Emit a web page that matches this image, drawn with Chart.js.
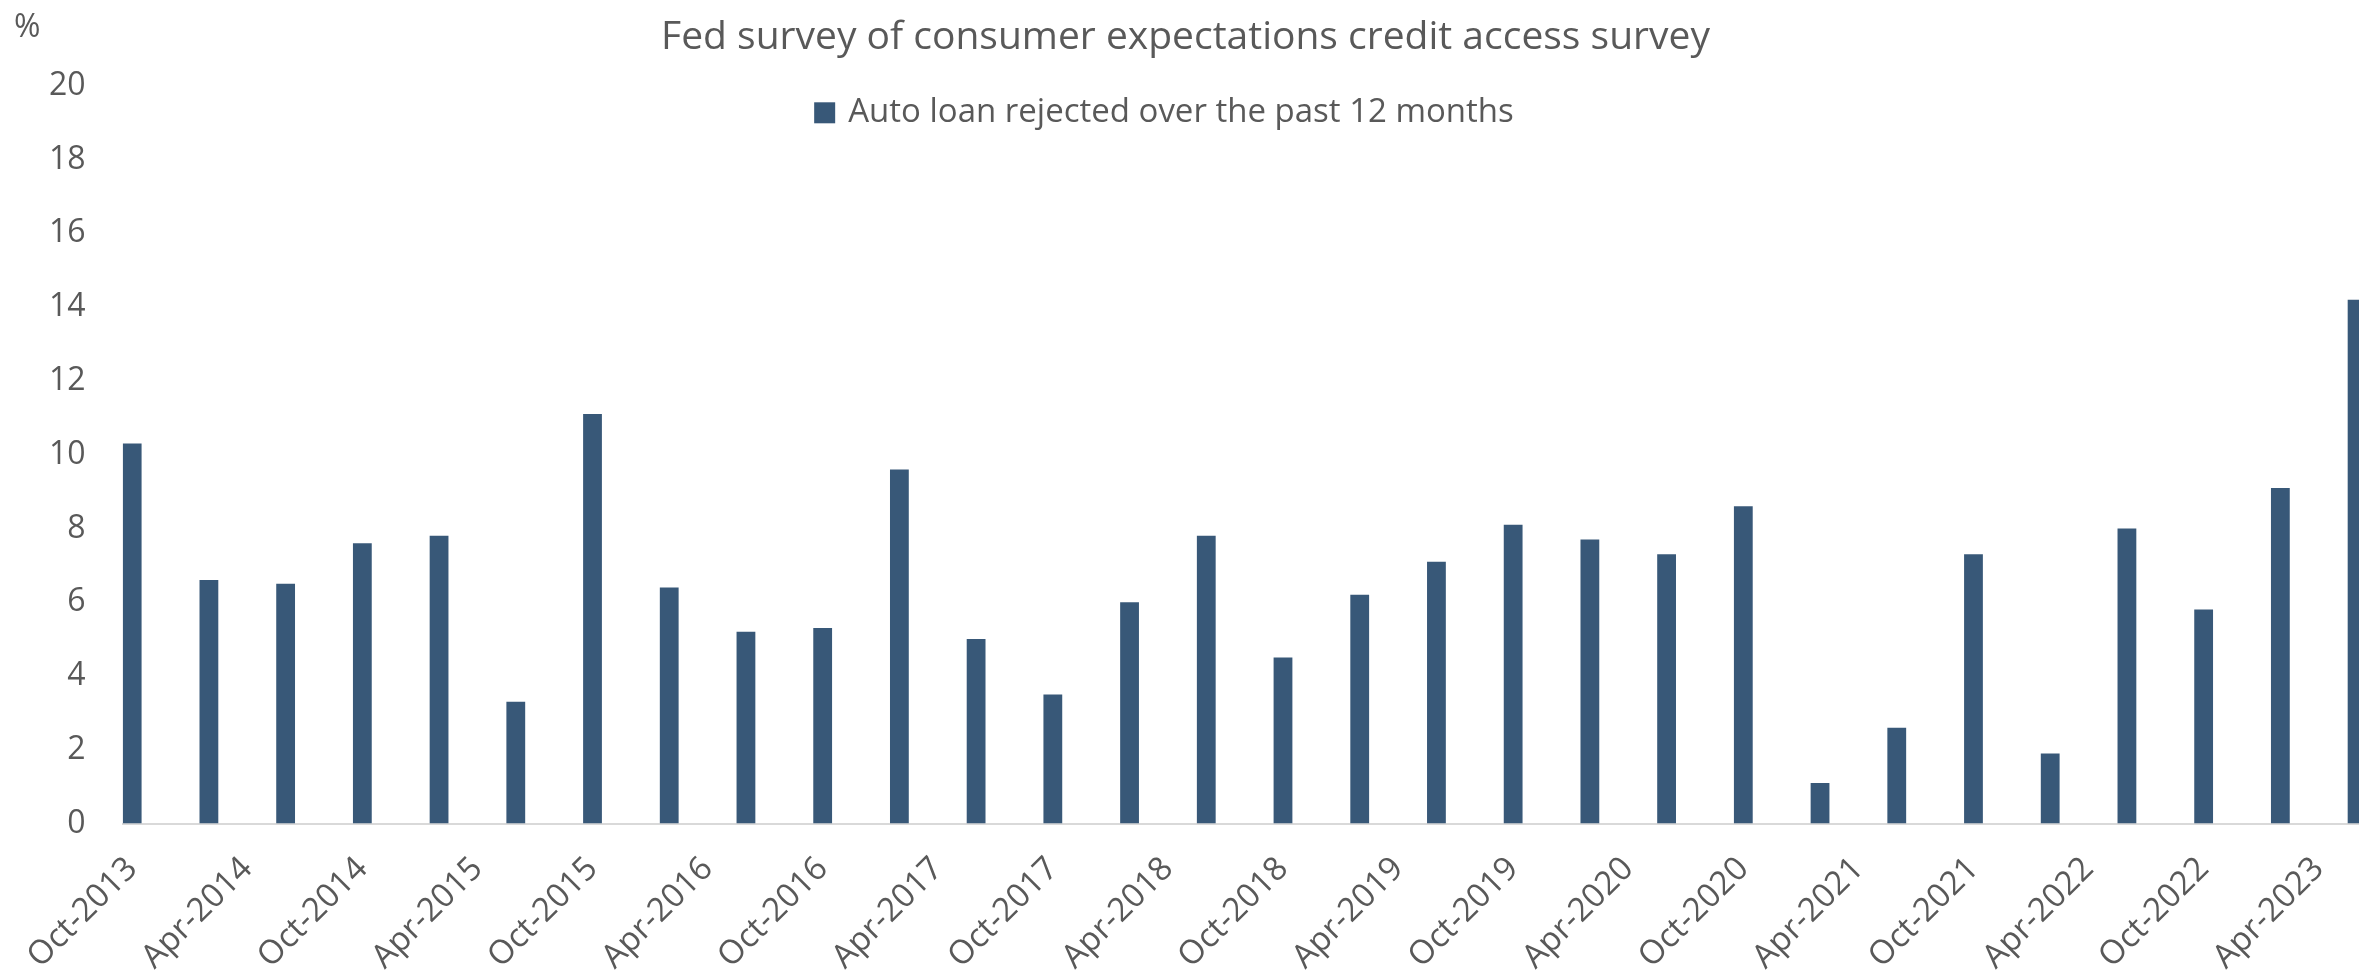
<!DOCTYPE html>
<html>
<head>
<meta charset="utf-8">
<title>Fed survey of consumer expectations credit access survey</title>
<script src="https://cdn.jsdelivr.net/npm/chart.js@4.4.0/dist/chart.umd.min.js"></script>
<style>
  html, body { margin: 0; padding: 0; background: #ffffff; overflow: hidden; }
  #wrap { position: relative; width: 2359px; height: 980px; }
</style>
</head>
<body>
<div id="wrap"><canvas id="creditChart"></canvas></div>
<script>
// survey waves (every 4 months)
const surveyDates = [
  'Oct-2013', 'Feb-2014', 'Jun-2014', 'Oct-2014', 'Feb-2015', 'Jun-2015',
  'Oct-2015', 'Feb-2016', 'Jun-2016', 'Oct-2016', 'Feb-2017', 'Jun-2017',
  'Oct-2017', 'Feb-2018', 'Jun-2018', 'Oct-2018', 'Feb-2019', 'Jun-2019',
  'Oct-2019', 'Feb-2020', 'Jun-2020', 'Oct-2020', 'Feb-2021', 'Jun-2021',
  'Oct-2021', 'Feb-2022', 'Jun-2022', 'Oct-2022', 'Feb-2023', 'Jun-2023'
];
const autoLoanRejected = [
  10.3, 6.6, 6.5, 7.6, 7.8, 3.3,
  11.1, 6.4, 5.2, 5.3, 9.6, 5.0,
  3.5, 6.0, 7.8, 4.5, 6.2, 7.1,
  8.1, 7.7, 7.3, 8.6, 1.1, 2.6,
  7.3, 1.9, 8.0, 5.8, 9.1, 14.2
];
// date axis labels every 6 months
const xTickLabels = [
  'Oct-2013', 'Apr-2014', 'Oct-2014', 'Apr-2015', 'Oct-2015', 'Apr-2016',
  'Oct-2016', 'Apr-2017', 'Oct-2017', 'Apr-2018', 'Oct-2018', 'Apr-2019',
  'Oct-2019', 'Apr-2020', 'Oct-2020', 'Apr-2021', 'Oct-2021', 'Apr-2022',
  'Oct-2022', 'Apr-2023'
];
const MONTHS = ['Jan', 'Feb', 'Mar', 'Apr', 'May', 'Jun', 'Jul', 'Aug', 'Sep', 'Oct', 'Nov', 'Dec'];

const textColor = '#595959';
const barColor = '#385878';
const fontFamily = "'Open Sans', 'Noto Sans', sans-serif";

// months since the first survey wave
function monthIndex(label) {
  const parts = label.split('-');
  return Number(parts[1]) * 12 + MONTHS.indexOf(parts[0]);
}
const firstMonth = monthIndex(surveyDates[0]);
const toX = label => monthIndex(label) - firstMonth;

// "%" unit at the top left
const unitLabel = {
  id: 'unitLabel',
  afterDraw(chart) {
    const c = chart.ctx;
    c.save();
    c.font = '32px ' + fontFamily;
    c.fillStyle = textColor;
    c.textAlign = 'left';
    c.textBaseline = 'middle';
    c.fillText('%', 14, 28);
    c.restore();
  }
};

// legend sits inside the plot, like the excel one
const legendOverlay = {
  id: 'legendOverlay',
  afterDraw(chart) {
    const ds = chart.data.datasets[0];
    const c = chart.ctx;
    const box = 21, gap = 13;
    c.save();
    c.font = '33px ' + fontFamily;
    const total = box + gap + c.measureText(ds.label).width;
    const left = 1164 - total / 2;
    const y = chart.chartArea.top + 27;
    c.fillStyle = ds.backgroundColor;
    c.fillRect(left, y - box / 2, box, box);
    c.fillStyle = textColor;
    c.textAlign = 'left';
    c.textBaseline = 'middle';
    c.fillText(ds.label, left + box + gap, y);
    c.restore();
  }
};

document.addEventListener('DOMContentLoaded', function () {
  const ctx = document.getElementById('creditChart').getContext('2d');

  new Chart(ctx, {
    type: 'bar',
    data: {
      datasets: [{
        label: 'Auto loan rejected over the past 12 months',
        data: surveyDates.map((d, i) => ({ x: toX(d), y: autoLoanRejected[i] })),
        backgroundColor: barColor,
        barPercentage: 0.245,
        categoryPercentage: 1,
        clip: 0
      }]
    },
    options: {
      responsive: true,
      maintainAspectRatio: false,
      animation: false,
      layout: { padding: { left: 12, right: 0, top: 0, bottom: -23 } },
      plugins: {
        title: {
          display: true,
          text: 'Fed survey of consumer expectations credit access survey',
          color: textColor,
          font: { family: fontFamily, size: 39, weight: 'normal' },
          padding: { top: 14, bottom: 25 }
        },
        legend: { display: false },
        tooltip: { enabled: false }
      },
      scales: {
        x: {
          type: 'linear',
          offset: false,
          min: -0.5,
          max: 116.1,
          grid: { display: false, drawTicks: false },
          border: { display: true, color: '#d9d9d9', width: 2 },
          afterBuildTicks: function (scale) {
            scale.ticks = xTickLabels.map(l => ({ value: toX(l) }));
          },
          // plot runs right up to the edge, last bar gets cut like the original
          afterFit: function (scale) {
            scale.paddingRight = 0;
          },
          ticks: {
            autoSkip: false,
            minRotation: 45,
            maxRotation: 45,
            padding: 26,
            color: textColor,
            font: { family: fontFamily, size: 33 },
            callback: function (value) {
              const hit = xTickLabels.find(l => toX(l) === value);
              return hit ? hit : '';
            }
          }
        },
        y: {
          min: 0,
          max: 20,
          grid: { display: false, drawTicks: false },
          border: { display: false },
          ticks: {
            stepSize: 2,
            padding: 37,
            color: textColor,
            font: { family: fontFamily, size: 32 }
          }
        }
      }
    },
    plugins: [unitLabel, legendOverlay]
  });
});
</script>
</body>
</html>
